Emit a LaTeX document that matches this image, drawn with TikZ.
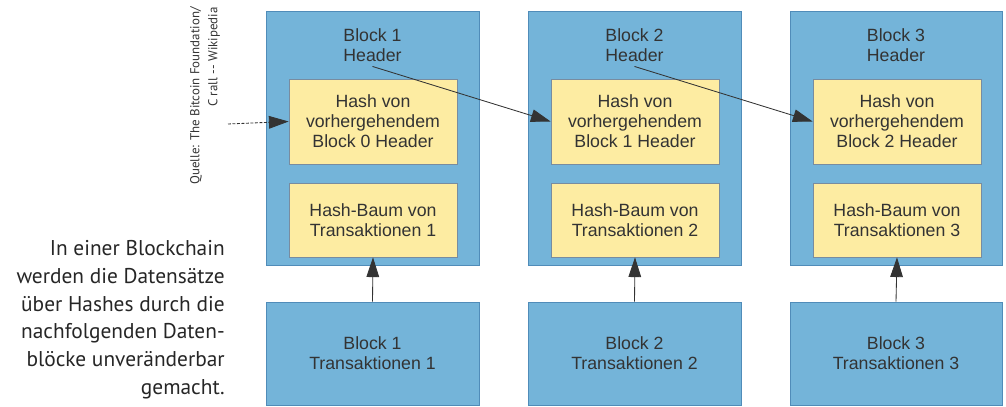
\documentclass[tikz,border=0pt]{standalone}
\usepackage{fontspec}
\setmainfont{Liberation Sans}
\newfontfamily\captionfont{PT Sans}
\usetikzlibrary{arrows.meta}
\definecolor{blockblue}{RGB}{116,180,217}
\definecolor{blockedge}{RGB}{80,140,185}
\definecolor{hashyellow}{RGB}{253,236,162}
\definecolor{hashedge}{RGB}{120,140,160}
\definecolor{labelgray}{RGB}{51,51,51}
\begin{document}
\begin{tikzpicture}[x=0.025cm, y=-0.025cm,
  blockbox/.style={draw=blockedge, fill=blockblue, line width=0.6pt, inner sep=0pt},
  hashbox/.style={draw=hashedge, fill=hashyellow, line width=0.5pt, inner sep=0pt, align=center,
    minimum width=4.2cm, text=labelgray},
  boxtext/.style={align=center, text=labelgray, font=\fontsize{12.6}{14.2}\selectfont},
  link/.style={draw=labelgray, line width=0.6pt, -{Triangle[length=14pt, width=9pt]}}]
\useasboundingbox (0,0) rectangle (1006,407);
%\draw[help lines, step=50] (0,0) grid (1006,407);
%%%%%%%%%%%%%%%%%%%%%%%%%%%%%%% Block 1
\node[blockbox, minimum width=5.325cm, minimum height=6.35cm](blk1) at (372.5,138){};
\node[boxtext](hdr1) at (372.5,45){Block 1\\Header};
\node[hashbox, boxtext, minimum height=2.125cm](hash1) at (373,121.5){Hash von\\vorhergehendem\\Block 0 Header};
\node[hashbox, boxtext, minimum height=1.85cm](tree1) at (373,220){Hash-Baum von\\Transaktionen 1};
\node[blockbox, boxtext, minimum width=5.325cm, minimum height=2.575cm](tx1) at (372.5,353.5){Block 1\\Transaktionen 1};
%%%%%%%%%%%%%%%%%%%%%%%%%%%%%%% Block 2
\node[blockbox, minimum width=5.325cm, minimum height=6.35cm](blk2) at (634.5,138){};
\node[boxtext](hdr2) at (634.5,45){Block 2\\Header};
\node[hashbox, boxtext, minimum height=2.125cm](hash2) at (635,121.5){Hash von\\vorhergehendem\\Block 1 Header};
\node[hashbox, boxtext, minimum height=1.85cm](tree2) at (635,220){Hash-Baum von\\Transaktionen 2};
\node[blockbox, boxtext, minimum width=5.325cm, minimum height=2.575cm](tx2) at (634.5,353.5){Block 2\\Transaktionen 2};
%%%%%%%%%%%%%%%%%%%%%%%%%%%%%%% Block 3
\node[blockbox, minimum width=5.3cm, minimum height=6.35cm](blk3) at (896,138){};
\node[boxtext](hdr3) at (896,45){Block 3\\Header};
\node[hashbox, boxtext, minimum height=2.125cm](hash3) at (897,121.5){Hash von\\vorhergehendem\\Block 2 Header};
\node[hashbox, boxtext, minimum height=1.85cm](tree3) at (897,220){Hash-Baum von\\Transaktionen 3};
\node[blockbox, boxtext, minimum width=5.3cm, minimum height=2.575cm](tx3) at (896,353.5){Block 3\\Transaktionen 3};
%%%%%%%%%%%%%%%%%%%%%%%%%%%%%%% links
\coordinate(prev) at (228,124);
\draw[link, dash pattern=on 2pt off 1.2pt] (prev) -- (hash1.west);
\draw[link] (hdr1.south) -- (hash2.west);
\draw[link] (hdr2.south) -- (hash3.west);
\draw[link] (tx1.north) -- (tree1.south);
\draw[link] (tx2.north) -- (tree2.south);
\draw[link] (tx3.north) -- (tree3.south);
%%%%%%%%%%%%%%%%%%%%%%%%%%%%%%% texts
\node[rotate=90, anchor=north east, align=right, inner sep=0pt, text=labelgray,
  font=\captionfont\fontsize{9.2}{12.8}\selectfont](source) at (190,7){Quelle: The Bitcoin Foundation/\\C rall -- Wikipedia};
\node[anchor=north east, align=right, inner sep=0pt, text=black!85,
  font=\captionfont\fontsize{15.2}{19.8}\selectfont](caption) at (225,240){In einer Blockchain\\werden die Datensätze\\über Hashes durch die\\nachfolgenden Daten-\\blöcke unveränderbar\\gemacht.};
\end{tikzpicture}
\end{document}
